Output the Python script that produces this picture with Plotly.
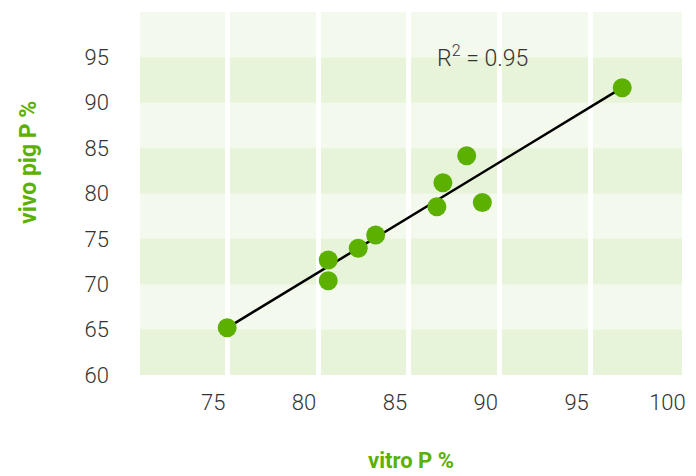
import plotly.graph_objects as go

# data
vitro_p = [75.0, 80.56, 80.56, 82.21, 83.17, 86.54, 89.04, 86.87, 88.18, 96.74]
vivo_p = [65.2, 72.67, 70.39, 73.96, 75.43, 78.55, 79.0, 81.19, 84.17, 91.66]
x_ticks = [75, 80, 85, 90, 95, 100]
y_ticks = [60, 65, 70, 75, 80, 85, 90, 95]
dark_bands = [(60, 65), (70, 75), (80, 85), (90, 95)]
r2_label = "R<sup>2</sup> = 0.95"

GREEN = "#5cb000"
TEXT = "#333333"
FONT = "Roboto"

# page has an 8px body margin; size the figure so the plot area lands where the reference has it
W, H = 688, 468
ML, MR, MT, MB = 132, 14, 4, 101
plot_w = W - ML - MR
plot_h = H - MT - MB


def px_to_paper(px, py):
    # px, py in screenshot pixels
    fx, fy = px - 8, py - 8
    return (fx - ML) / plot_w, (H - MB - fy) / plot_h


fig = go.Figure()

# trend line between the extreme points
i_min = vitro_p.index(min(vitro_p))
i_max = vitro_p.index(max(vitro_p))
fig.add_trace(go.Scatter(
    x=[vitro_p[i_min], vitro_p[i_max]],
    y=[vivo_p[i_min], vivo_p[i_max]],
    mode="lines",
    line=dict(color="black", width=2.5),
    hoverinfo="skip",
    showlegend=False,
))

fig.add_trace(go.Scatter(
    x=vitro_p, y=vivo_p,
    mode="markers",
    marker=dict(color=GREEN, size=19, line=dict(width=0)),
    showlegend=False,
))

shapes = []
for y0, y1 in dark_bands:
    shapes.append(dict(
        type="rect", xref="paper", yref="y",
        x0=0, x1=1, y0=y0, y1=y1,
        fillcolor="#e7f4d9", line=dict(width=0), layer="below",
    ))

xt_x, xt_y = px_to_paper(411, 460)
yt_x, yt_y = px_to_paper(28, 163)

fig.update_layout(
    width=W, height=H,
    margin=dict(l=ML, r=MR, t=MT, b=MB),
    paper_bgcolor="white",
    plot_bgcolor="#f3f9ec",
    shapes=shapes,
    font=dict(family=FONT, color=TEXT),
    xaxis=dict(
        range=[70.2, 100.03],
        tickvals=x_ticks,
        tickfont=dict(size=22, color=TEXT, family=FONT, weight=300),
        showgrid=True, gridcolor="white", gridwidth=5,
        zeroline=False, showline=False,
        ticks="", ticklabelstandoff=12, ticklabelshift=-14,
    ),
    yaxis=dict(
        range=[60, 100],
        tickvals=y_ticks,
        tickfont=dict(size=22, color=TEXT, family=FONT, weight=300),
        showgrid=False,
        zeroline=False, showline=False,
        ticks="", ticklabelstandoff=30,
    ),
    annotations=[
        dict(
            text=r2_label, x=89.07, y=95.15, xref="x", yref="y",
            showarrow=False, xanchor="center", yanchor="middle",
            font=dict(size=23, color=TEXT, family=FONT, weight=300),
        ),
        dict(
            text="<b>vitro P %</b>", x=xt_x, y=xt_y, xref="paper", yref="paper",
            showarrow=False, xanchor="center", yanchor="middle",
            font=dict(size=22, color=GREEN, family=FONT),
        ),
        dict(
            text="<b>vivo pig P %</b>", x=yt_x, y=yt_y, xref="paper", yref="paper",
            showarrow=False, textangle=-90, xanchor="center", yanchor="middle",
            font=dict(size=23, color=GREEN, family=FONT),
        ),
    ],
)

fig.write_html("out.html")
